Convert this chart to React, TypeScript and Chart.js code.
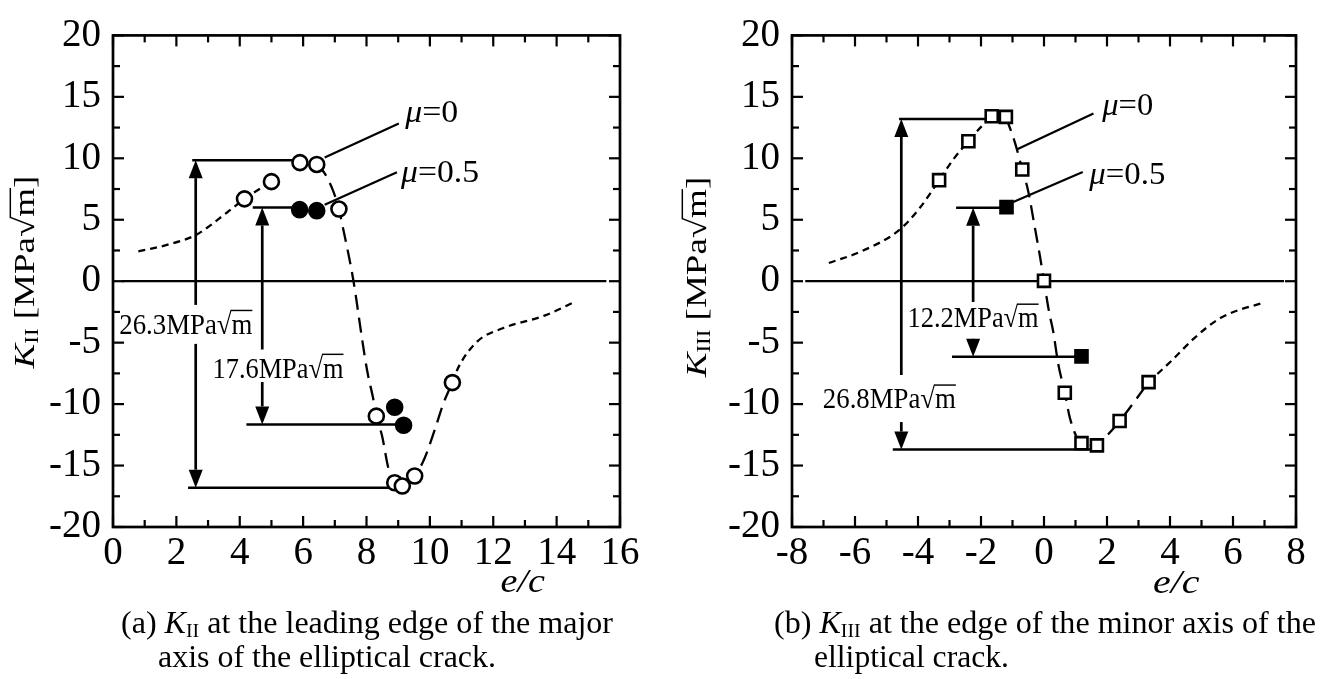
import React, { useEffect, useRef } from "react";
import { Chart, registerables } from "chart.js";

Chart.register(...registerables);

const FONT = '"Liberation Serif", "Times New Roman", serif';

// ---------------- panel (a): K_II, leading edge of the major axis ----------------
const A_X_TICKS = [0, 2, 4, 6, 8, 10, 12, 14, 16];
const A_Y_TICKS = [-20, -15, -10, -5, 0, 5, 10, 15, 20];
// mu = 0 (open circles)
const A_MU0_X = [4.15, 5.0, 5.9, 6.43, 7.13, 8.31, 8.89, 9.13, 9.52, 10.71];
const A_MU0_Y = [6.7, 8.1, 9.65, 9.5, 5.87, -10.98, -16.4, -16.67, -15.85, -8.25];
// mu = 0.5 (filled circles)
const A_MU05_X = [5.89, 6.43, 8.89, 9.17];
const A_MU05_Y = [5.82, 5.74, -10.26, -11.72];
// dashed trend curves
const A_CURVE1_X = [0.8, 1.7, 2.61, 3.61, 4.15, 5.0];
const A_CURVE1_Y = [2.43, 2.95, 3.76, 5.61, 6.7, 8.1];
const A_CURVE2_X = [6.43, 6.68, 6.95, 7.13, 7.22, 7.59, 7.86, 8.02, 8.22, 8.31, 8.49, 8.69, 8.89, 9.13, 9.52, 9.83, 10.16, 10.43, 10.71];
const A_CURVE2_Y = [9.5, 8.78, 7.33, 5.87, 4.8, 0, -4.7, -7.27, -9.66, -10.98, -12.57, -15.2, -16.4, -16.67, -15.85, -14.42, -12.04, -9.92, -8.25];
const A_CURVE3_X = [10.71, 10.9, 11.5, 12.3, 13.64, 14.6];
const A_CURVE3_Y = [-8.25, -7.01, -4.9, -3.83, -2.78, -1.65];

// ---------------- panel (b): K_III, edge of the minor axis ----------------
const B_X_TICKS = [-8, -6, -4, -2, 0, 2, 4, 6, 8];
const B_Y_TICKS = [-20, -15, -10, -5, 0, 5, 10, 15, 20];
const B_MU0_X = [-3.33, -2.4, -1.66, -1.21, -0.69, 0.0, 0.66, 1.19, 1.68, 2.4, 3.32];
const B_MU0_Y = [8.22, 11.39, 13.42, 13.37, 9.09, 0.03, -9.08, -13.18, -13.36, -11.38, -8.21];
const B_MU05_X = [-1.19, 1.19];
const B_MU05_Y = [6.03, -6.12];
const B_CURVE1_X = [-6.83, -5.82, -4.61, -3.94, -3.33, -2.87, -2.4, -1.99, -1.66];
const B_CURVE1_Y = [1.48, 2.41, 4.13, 5.97, 8.22, 9.94, 11.39, 12.58, 13.42];
const B_CURVE2_X = [-1.21, -0.92, -0.69, -0.51, -0.31, -0.11, 0.0, 0.16, 0.29, 0.45, 0.66, 0.83, 1.19, 1.68, 1.97, 2.4, 2.85, 3.32];
const B_CURVE2_Y = [13.37, 11.26, 9.09, 7.43, 4.65, 1.75, 0.0, -2.48, -4.06, -6.7, -9.08, -11.2, -13.18, -13.36, -12.65, -11.38, -9.87, -8.21];
const B_CURVE3_X = [3.32, 4.06, 4.79, 5.6, 6.88, 7.0];
const B_CURVE3_Y = [-8.21, -6.44, -4.59, -3.0, -1.82, -1.75];

// ---------------- annotation values ----------------
const A_RANGE_LABELS = ["26.3", "17.6"];
const B_RANGE_LABELS = ["12.2", "26.8"];

type Pt = { x: number; y: number };
const zip = (xs: number[], ys: number[]): Pt[] => xs.map((x, i) => ({ x, y: ys[i] }));

type Part = { t: string; it?: boolean; sc?: number; dy?: number; over?: boolean };
type Label = { parts: Part[]; size: number; x: number; cy: number; w: number };
type Level = { y: number; x1: number; x2: number };
type Arrow = { x: number; from: number; to: number };
type Leader = { x1: number; y1: number; x2: number; y2: number };
type Caption = { parts: Part[]; x: number; base: number; w: number };

type PanelCfg = {
  left: number;
  width: number;
  padRight: number;
  yAxisWidth: number;
  xMin: number;
  xMax: number;
  xTicks: number[];
  yTicks: number[];
  marker: "circle" | "rect";
  markerRadius: number;
  open: Pt[];
  filled: Pt[];
  shortCurves: Pt[][];
  longCurves: Pt[][];
  zero: [number, number];
  levels: Level[];
  arrows: Arrow[];
  leaders: Leader[];
  labels: Label[];
  yTitle: Part[];
  yTitleBase: number;
  yTitleCY: number;
  ecX: number;
  ecW: number;
  ecBase: number;
  captions: Caption[];
};

const unit = (v: string): Part[] => [{ t: v + "MPa" }, { t: "√" }, { t: "m", over: true }];

const partFont = (p: Part, size: number) =>
  `${p.it ? "italic " : ""}${(size * (p.sc ?? 1)).toFixed(1)}px ${FONT}`;

function measureParts(ctx: CanvasRenderingContext2D, parts: Part[], size: number) {
  let w = 0;
  for (const p of parts) {
    ctx.font = partFont(p, size);
    w += ctx.measureText(p.t).width;
  }
  return w;
}

function drawText(
  ctx: CanvasRenderingContext2D,
  parts: Part[],
  size: number,
  x: number,
  y: number,
  opts: { align?: "left" | "center"; width?: number; rotate?: boolean; sy?: number } = {}
) {
  ctx.save();
  ctx.translate(x, y);
  if (opts.rotate) ctx.rotate(-Math.PI / 2);
  const w = measureParts(ctx, parts, size);
  const sx = opts.width ? opts.width / w : 1;
  ctx.scale(sx, opts.sy ?? 1);
  let cx = opts.align === "center" ? -w / 2 : 0;
  ctx.fillStyle = "#000";
  ctx.strokeStyle = "#000";
  ctx.textBaseline = "alphabetic";
  ctx.textAlign = "left";
  for (const p of parts) {
    ctx.font = partFont(p, size);
    const pw = ctx.measureText(p.t).width;
    ctx.fillText(p.t, cx, (p.dy ?? 0) * size);
    if (p.over) {
      ctx.lineWidth = size * 0.05;
      ctx.beginPath();
      ctx.moveTo(cx - size * 0.04, -size * 0.8);
      ctx.lineTo(cx + pw, -size * 0.8);
      ctx.stroke();
    }
    cx += pw;
  }
  ctx.restore();
}

const seg = (ctx: CanvasRenderingContext2D, x1: number, y1: number, x2: number, y2: number) => {
  ctx.beginPath();
  ctx.moveTo(x1, y1);
  ctx.lineTo(x2, y2);
  ctx.stroke();
};

const makePlugin = (p: PanelCfg) => ({
  id: "decor",
  beforeDatasetsDraw(chart: any) {
    const { ctx, scales } = chart;
    const X = (v: number) => scales.x.getPixelForValue(v);
    const Y = (v: number) => scales.y.getPixelForValue(v);
    ctx.save();
    ctx.strokeStyle = "#000";
    ctx.fillStyle = "#000";
    ctx.lineCap = "butt";
    ctx.lineWidth = 2.3;
    seg(ctx, X(p.zero[0]), Y(0), X(p.zero[1]), Y(0));
    ctx.lineWidth = 2.5;
    for (const l of p.levels) seg(ctx, X(l.x1), Y(l.y), X(l.x2), Y(l.y));
    for (const a of p.arrows) {
      const px = X(a.x);
      const y0 = Y(a.from);
      const y1 = Y(a.to);
      const dir = Math.sign(y1 - y0);
      const hl = 18;
      const hw = 7;
      ctx.lineWidth = 2.7;
      seg(ctx, px, y0, px, y1 - dir * hl);
      ctx.beginPath();
      ctx.moveTo(px, y1);
      ctx.lineTo(px - hw, y1 - dir * hl);
      ctx.lineTo(px + hw, y1 - dir * hl);
      ctx.closePath();
      ctx.fill();
    }
    ctx.lineWidth = 2.2;
    for (const l of p.leaders) seg(ctx, X(l.x1), Y(l.y1), X(l.x2), Y(l.y2));
    ctx.restore();
  },
  afterDraw(chart: any) {
    const { ctx, chartArea: a, scales } = chart;
    const X = (v: number) => scales.x.getPixelForValue(v);
    const Y = (v: number) => scales.y.getPixelForValue(v);
    ctx.save();
    ctx.strokeStyle = "#000";
    ctx.lineWidth = 2.2;
    // inward tick marks on all four sides (major + minor)
    const tickSet = (vals: number[]) => {
      const out: { v: number; major: boolean }[] = [];
      vals.forEach((v, i) => {
        out.push({ v, major: true });
        if (i < vals.length - 1) out.push({ v: (v + vals[i + 1]) / 2, major: false });
      });
      return out;
    };
    for (const t of tickSet(scales.x.ticks.map((k: any) => k.value))) {
      const px = X(t.v);
      const L = t.major ? 11 : 7;
      seg(ctx, px, a.bottom, px, a.bottom - L);
      seg(ctx, px, a.top, px, a.top + L);
    }
    for (const t of tickSet(scales.y.ticks.map((k: any) => k.value))) {
      const py = Y(t.v);
      const L = t.major ? 11 : 7;
      seg(ctx, a.left, py, a.left + L, py);
      seg(ctx, a.right, py, a.right - L, py);
    }
    ctx.lineWidth = 2.7;
    ctx.strokeRect(a.left, a.top, a.right - a.left, a.bottom - a.top);
    ctx.restore();

    for (const l of p.labels) {
      drawText(ctx, l.parts, l.size, X(l.x), Y(l.cy) + l.size * 0.33, { width: l.w });
    }
    drawText(ctx, p.yTitle, 37, p.yTitleBase, p.yTitleCY, { align: "center", rotate: true, sy: 0.8 });
    drawText(ctx, [{ t: "e/c", it: true }], 34, X(p.ecX), p.ecBase, { width: p.ecW });
    for (const c of p.captions) drawText(ctx, c.parts, 32, c.x, c.base, { width: c.w });
  },
});

const PANEL_A: PanelCfg = {
  left: 0,
  width: 667,
  padRight: 47,
  yAxisWidth: 113,
  xMin: 0,
  xMax: 16,
  xTicks: A_X_TICKS,
  yTicks: A_Y_TICKS,
  marker: "circle",
  markerRadius: 7.5,
  open: zip(A_MU0_X, A_MU0_Y),
  filled: zip(A_MU05_X, A_MU05_Y),
  shortCurves: [zip(A_CURVE1_X, A_CURVE1_Y), zip(A_CURVE3_X, A_CURVE3_Y)],
  longCurves: [zip(A_CURVE2_X, A_CURVE2_Y)],
  zero: [0.27, 15.57],
  levels: [
    { y: 9.85, x1: 2.5, x2: 5.9 },
    { y: 6.0, x1: 4.41, x2: 5.89 },
    { y: -11.65, x1: 4.21, x2: 9.17 },
    { y: -16.8, x1: 2.37, x2: 8.89 },
  ],
  arrows: [
    { x: 2.61, from: -1.93, to: 9.85 },
    { x: 2.61, from: -5.1, to: -16.8 },
    { x: 4.71, from: -5.56, to: 6.0 },
    { x: 4.71, from: -8.2, to: -11.65 },
  ],
  leaders: [
    { x1: 9.02, y1: 12.83, x2: 6.68, y2: 10.06 },
    { x1: 8.96, y1: 8.86, x2: 6.68, y2: 6.22 },
  ],
  labels: [
    { parts: unit(A_RANGE_LABELS[0]), size: 29, x: 0.2, cy: -3.49, w: 133 },
    { parts: unit(A_RANGE_LABELS[1]), size: 29, x: 3.14, cy: -7.06, w: 131 },
    { parts: [{ t: "μ", it: true }, { t: "=0" }], size: 32, x: 9.22, cy: 13.8, w: 53 },
    { parts: [{ t: "μ", it: true }, { t: "=0.5" }], size: 32, x: 9.09, cy: 8.93, w: 78 },
  ],
  yTitle: [{ t: "K", it: true }, { t: "II", sc: 0.62, dy: 0.15 }, { t: " [MPa" }, { t: "√" }, { t: "m", over: true }, { t: "]" }],
  yTitleBase: 34,
  yTitleCY: 272,
  ecX: 12.23,
  ecW: 44.5,
  ecBase: 592,
  captions: [
    {
      parts: [{ t: "(a) " }, { t: "K", it: true }, { t: "II", sc: 0.62, dy: 0.12 }, { t: " at the leading edge of the major" }],
      x: 121,
      base: 633,
      w: 492,
    },
    { parts: [{ t: "axis of the elliptical crack." }], x: 158, base: 667, w: 338 },
  ],
};

const PANEL_B: PanelCfg = {
  left: 667,
  width: 668,
  padRight: 39,
  yAxisWidth: 125,
  xMin: -8,
  xMax: 8,
  xTicks: B_X_TICKS,
  yTicks: B_Y_TICKS,
  marker: "rect",
  markerRadius: 8.5,
  open: zip(B_MU0_X, B_MU0_Y),
  filled: zip(B_MU05_X, B_MU05_Y),
  shortCurves: [zip(B_CURVE1_X, B_CURVE1_Y), zip(B_CURVE3_X, B_CURVE3_Y)],
  longCurves: [zip(B_CURVE2_X, B_CURVE2_Y)],
  zero: [-7.58, 7.62],
  levels: [
    { y: 13.2, x1: -4.6, x2: -1.66 },
    { y: 5.97, x1: -2.79, x2: -1.19 },
    { y: -6.15, x1: -2.92, x2: 1.19 },
    { y: -13.7, x1: -4.8, x2: 1.68 },
  ],
  arrows: [
    { x: -4.53, from: -7.63, to: 13.2 },
    { x: -4.53, from: -11.46, to: -13.7 },
    { x: -2.25, from: -1.69, to: 5.97 },
    { x: -2.25, from: -4.97, to: -6.15 },
  ],
  leaders: [
    { x1: 1.57, y1: 13.64, x2: -0.85, y2: 10.73 },
    { x1: 1.23, y1: 8.88, x2: -1.05, y2: 6.37 },
  ],
  labels: [
    { parts: unit(B_RANGE_LABELS[0]), size: 29, x: -4.33, cy: -2.98, w: 131 },
    { parts: unit(B_RANGE_LABELS[1]), size: 29, x: -7.02, cy: -9.56, w: 133 },
    { parts: [{ t: "μ", it: true }, { t: "=0" }], size: 32, x: 1.85, cy: 14.4, w: 51 },
    { parts: [{ t: "μ", it: true }, { t: "=0.5" }], size: 32, x: 1.44, cy: 8.79, w: 76 },
  ],
  yTitle: [{ t: "K", it: true }, { t: "III", sc: 0.62, dy: 0.15 }, { t: " [MPa" }, { t: "√" }, { t: "m", over: true }, { t: "]" }],
  yTitleBase: 39,
  yTitleCY: 277,
  ecX: 3.46,
  ecW: 46.6,
  ecBase: 593,
  captions: [
    {
      parts: [{ t: "(b) " }, { t: "K", it: true }, { t: "III", sc: 0.62, dy: 0.12 }, { t: " at the edge of the minor axis of the" }],
      x: 107,
      base: 633,
      w: 542,
    },
    { parts: [{ t: "elliptical crack." }], x: 147, base: 667, w: 195 },
  ],
};

function Panel({ p }: { p: PanelCfg }) {
  const ref = useRef<HTMLCanvasElement | null>(null);
  useEffect(() => {
    if (!ref.current) return;
    const curve = (data: Pt[], dash: number[]) => ({
      type: "line" as const,
      data,
      borderColor: "#000",
      borderWidth: 2.3,
      borderDash: dash,
      pointRadius: 0,
      fill: false,
      cubicInterpolationMode: "monotone" as const,
    });
    const markers = (data: Pt[], bg: string) => ({
      type: "line" as const,
      data,
      showLine: false,
      pointStyle: p.marker,
      pointRadius: p.markerRadius,
      pointBorderWidth: 2.6,
      pointBorderColor: "#000",
      pointBackgroundColor: bg,
    });
    const chart = new Chart(ref.current, {
      type: "line",
      data: {
        datasets: [
          markers(p.filled, "#000"),
          markers(p.open, "#fff"),
          ...p.longCurves.map((c) => curve(c, [15, 8])),
          ...p.shortCurves.map((c) => curve(c, [7, 5])),
        ] as any,
      },
      options: {
        animation: false,
        responsive: false,
        events: [],
        layout: { padding: { top: 23, right: p.padRight, bottom: 0, left: 0 } },
        plugins: { legend: { display: false }, tooltip: { enabled: false } },
        scales: {
          x: {
            type: "linear",
            min: p.xMin,
            max: p.xMax,
            grid: { display: false, drawTicks: false },
            border: { display: false },
            ticks: { font: { family: FONT, size: 39 }, color: "#000", padding: 3, maxRotation: 0 },
            afterBuildTicks: (s: any) => {
              s.ticks = p.xTicks.map((v) => ({ value: v }));
            },
            afterFit: (s: any) => {
              s.height = 152;
            },
          },
          y: {
            type: "linear",
            min: -20,
            max: 20,
            grid: { display: false, drawTicks: false },
            border: { display: false },
            ticks: { font: { family: FONT, size: 39 }, color: "#000", padding: 12 },
            afterBuildTicks: (s: any) => {
              s.ticks = p.yTicks.map((v) => ({ value: v }));
            },
            afterFit: (s: any) => {
              s.width = p.yAxisWidth;
            },
          },
        },
      },
      plugins: [makePlugin(p)],
    } as any);
    return () => chart.destroy();
  }, [p]);
  return (
    <canvas
      ref={ref}
      width={p.width}
      height={679}
      style={{ position: "absolute", left: p.left, top: 0, width: p.width, height: 679 }}
    />
  );
}

export default function App() {
  return (
    <div style={{ position: "absolute", left: 0, top: 0, width: 1335, height: 679, background: "#fff", overflow: "hidden" }}>
      <Panel p={PANEL_A} />
      <Panel p={PANEL_B} />
    </div>
  );
}
